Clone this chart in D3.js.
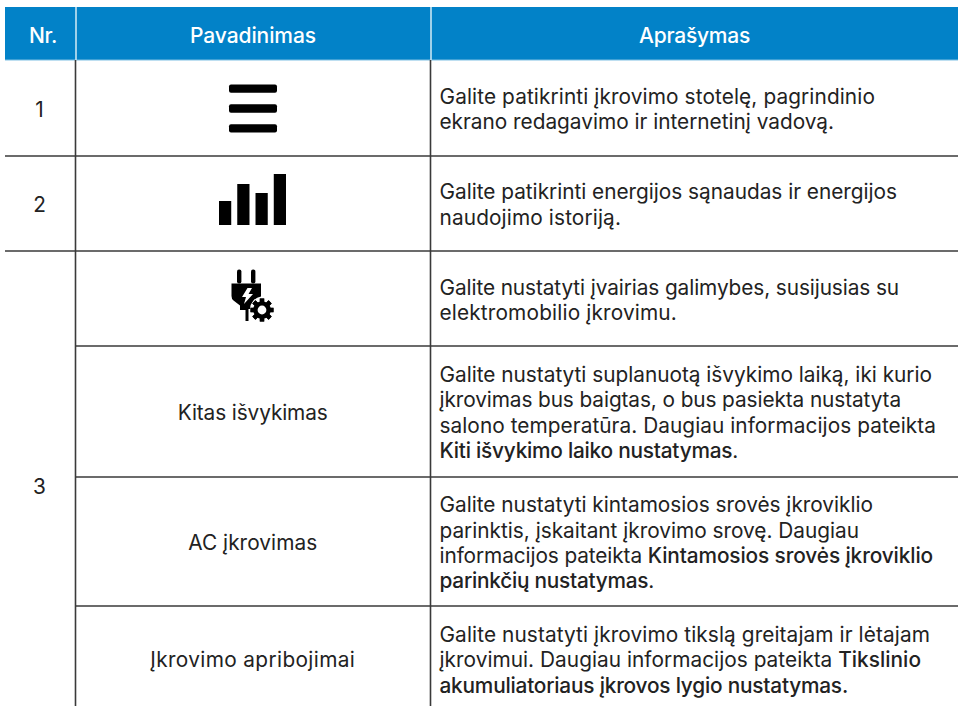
<!DOCTYPE html>
<html>
<head>
<meta charset="utf-8">
<script src="https://cdn.jsdelivr.net/npm/d3@7"></script>
<style>
html,body{margin:0;padding:0;background:#fff;}
svg{display:block;}
text{font-family:Inter,"Noto Sans",sans-serif;white-space:pre;}
</style>
</head>
<body>
<div id="canvas"></div>
<script>
var headers = ["Nr.", "Pavadinimas", "Aprašymas"];
var numbers = ["1", "2", "3"];
var names = ["Kitas išvykimas", "AC įkrovimas", "Įkrovimo apribojimai"];
// each line is a list of [text, bold]
var descriptions = [
  [[["Galite patikrinti įkrovimo stotelę, pagrindinio",0]], [["ekrano redagavimo ir internetinį vadovą.",0]]],
  [[["Galite patikrinti energijos sąnaudas ir energijos",0]], [["naudojimo istoriją.",0]]],
  [[["Galite nustatyti įvairias galimybes, susijusias su",0]], [["elektromobilio įkrovimu.",0]]],
  [[["Galite nustatyti suplanuotą išvykimo laiką, iki kurio",0]], [["įkrovimas bus baigtas, o bus pasiekta nustatyta",0]],
   [["salono temperatūra. Daugiau informacijos pateikta",0]], [["Kiti išvykimo laiko nustatymas",1],[".",0]]],
  [[["Galite nustatyti kintamosios srovės įkroviklio",0]], [["parinktis, įskaitant įkrovimo srovę. Daugiau",0]],
   [["informacijos pateikta ",0],["Kintamosios srovės įkroviklio",1]], [["parinkčių nustatymas",1],[".",0]]],
  [[["Galite nustatyti įkrovimo tikslą greitajam ir lėtajam",0]], [["įkrovimui. Daugiau informacijos pateikta ",0],["Tikslinio",1]],
   [["akumuliatoriaus įkrovos lygio nustatymas.",1]]]
];
var signalBars = [24, 41, 32, 51];

var width = 962, height = 706;
var colEdges = [5, 76, 431, 958];
var rowEdges = [60, 156, 251, 346, 477, 606, 706];
var lineColor = "#3a3a3a", blue = "#0282c8", fontSize = 20.8;

// where the printed text lines sit in the picture
var headerX = [43, 253, 694.5], headerW = [28, 126, 111];
var numberY = [116.5, 211.5, 494];
var nameY = [420, 550, 667], nameW = [150, 129, 205];
var descY = [[103.5,129],[199,225],[295,320],[382,407,433,458],[512,537.5,563,588],[642,667,693]];
var descEnd = [[875,834],[897,621],[899,677],[932,901,936,738],[873,859,933,654],[930,921,848]];

var y = d3.scaleLinear().domain(d3.range(rowEdges.length)).range(rowEdges);
var svg = d3.select("#canvas").append("svg").attr("width", width).attr("height", height);

// stretches a text to the width it has in the picture
function fit(node, w) {
  var n = node.getNumberOfChars();
  var len = node.getComputedTextLength();
  d3.select(node).style("letter-spacing", ((w - len) / n) + "px");
}

// header
svg.append("rect").attr("x", 5).attr("y", 7).attr("width", 953).attr("height", 53).attr("fill", blue);
svg.append("line").attr("x1", 5).attr("x2", 958).attr("y1", 60).attr("y2", 60).attr("stroke", "#7fc0e3").attr("stroke-width", 1);
svg.selectAll(".hsep").data([1, 2]).enter().append("line")
  .attr("x1", function(d){return colEdges[d];}).attr("x2", function(d){return colEdges[d];})
  .attr("y1", 7).attr("y2", 60).attr("stroke", "#d5ebf6").attr("stroke-width", 1.5);
svg.selectAll(".htext").data(headers).enter().append("text")
  .attr("x", function(d,i){return headerX[i];})
  .attr("y", 43).attr("text-anchor", "middle").attr("fill", "#fff")
  .attr("font-size", 21).attr("font-weight", 500).text(function(d){return d;})
  .each(function(d,i){fit(this, headerW[i]);});

// grid
[1, 2].forEach(function(c){
  svg.append("line").attr("x1", colEdges[c]-0.5).attr("x2", colEdges[c]-0.5).attr("y1", 60).attr("y2", 706)
    .attr("stroke", lineColor).attr("stroke-width", 1.6);
});
svg.selectAll(".row").data([1, 2, 3, 4, 5]).enter().append("line")
  .attr("x1", function(d){return d <= 2 ? colEdges[0] : colEdges[1];}).attr("x2", 958)
  .attr("y1", function(d){return y(d);}).attr("y2", function(d){return y(d);})
  .attr("stroke", lineColor).attr("stroke-width", 1.6);

// first column
svg.selectAll(".num").data(numbers).enter().append("text")
  .attr("x", 39.5).attr("text-anchor", "middle").attr("fill", "#222").attr("font-size", fontSize)
  .attr("y", function(d,i){return numberY[i];})
  .text(function(d){return d;});

// second column
svg.selectAll(".name").data(names).enter().append("text")
  .attr("x", 252.7).attr("text-anchor", "middle").attr("fill", "#222").attr("font-size", fontSize)
  .attr("y", function(d,i){return nameY[i];})
  .text(function(d){return d;})
  .each(function(d,i){fit(this, nameW[i]);});

// menu icon
svg.selectAll(".menu").data([0, 1, 2]).enter().append("rect")
  .attr("x", 229).attr("width", 48).attr("height", 8.4).attr("rx", 2)
  .attr("y", function(d){return 84.4 + d*19.9;}).attr("fill", "#000");

// signal icon
var barX = d3.scaleBand().domain(d3.range(signalBars.length)).range([219, 286]).paddingInner(0.33);
var barY = d3.scaleLinear().domain([0, 51]).range([225, 174]);
svg.selectAll(".sig").data(signalBars).enter().append("rect")
  .attr("x", function(d,i){return barX(i);}).attr("width", barX.bandwidth())
  .attr("y", function(d){return barY(d);}).attr("height", function(d){return barY(0)-barY(d);})
  .attr("fill", "#000");

// plug icon
var plug = svg.append("g").attr("fill", "#000");
plug.append("rect").attr("x", 237).attr("y", 269.5).attr("width", 4.4).attr("height", 14).attr("rx", 2);
plug.append("rect").attr("x", 251).attr("y", 269.5).attr("width", 4.4).attr("height", 14).attr("rx", 2);
plug.append("path").attr("d", "M231.5 283.5H261V296.5A13 13 0 0 0 250 309H248.5V321H245.5V310H240V305.5L233.5 300.5Q231.5 299 231.5 296Z");
plug.append("path").attr("fill", "#fff").attr("d", "M247.5 288L242 297H246L244 304L253 294H248.5L252 288Z");
var gear = plug.append("g").attr("transform", "translate(262,310)");
gear.selectAll("rect").data(d3.range(8)).enter().append("rect")
  .attr("x", -2.2).attr("y", -11.5).attr("width", 4.4).attr("height", 23)
  .attr("transform", function(d){return "rotate(" + d*45 + ")";});
gear.append("circle").attr("r", 8.8).attr("fill", "#000");
gear.append("circle").attr("r", 4.4).attr("fill", "#fff");

// third column
descriptions.forEach(function(lines, r){
  var t = svg.selectAll(".d"+r).data(lines).enter().append("text")
    .attr("x", 439.5).attr("y", function(d,i){return descY[r][i];})
    .attr("fill", "#222").attr("font-size", fontSize);
  t.selectAll("tspan").data(function(d){return d;}).enter().append("tspan")
    .attr("font-weight", function(d){return d[1] ? 550 : 400;})
    .text(function(d){return d[0];});
  t.each(function(d,i){fit(this, descEnd[r][i]-439.5);});
});
</script>
</body>
</html>
